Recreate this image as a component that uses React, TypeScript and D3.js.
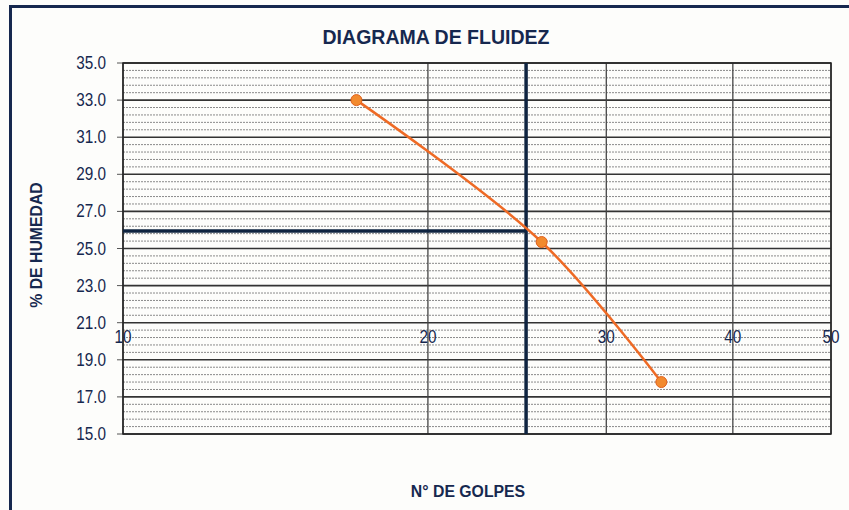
import React from 'react';
import * as d3 from 'd3';

// ensayo de limite liquido: golpes vs % humedad
const golpes = [17.0, 25.9, 34.0];
const humedad = [33.0, 25.35, 17.8];
const xTicks = [10, 20, 30, 40, 50];
const yTicks = [15, 17, 19, 21, 23, 25, 27, 29, 31, 33, 35];
const limiteGolpes = 25;
const limiteHumedad = 25.95;
const xAxisCross = 21;

const W = 849, H = 510;
const margin = { top: 63, right: 18, bottom: 76, left: 123 };
const navy = '#16284f';
const orange = '#ee6a25';
const font = '"Liberation Sans Narrow", "Liberation Sans", Arial, sans-serif';

const App = () => {
  const x = d3.scaleLog().domain([10, 50]).range([margin.left, W - margin.right]);
  const y = d3.scaleLinear().domain([15, 35]).range([H - margin.bottom, margin.top]);

  const minor = d3.range(15, 35.001, 0.4).filter((v) => !yTicks.some((t) => Math.abs(t - v) < 1e-6));
  const pts: [number, number][] = golpes.map((g, i) => [x(g), y(humedad[i])]);
  const line = d3.line().curve(d3.curveCatmullRom.alpha(0.5))(pts);

  const [x0, x1] = x.range();
  const [y0, y1] = y.range();

  return (
    <svg width={W} height={H} style={{ position: 'absolute', left: 0, top: 0, background: '#fdfdfb' }}>
      {/* marco */}
      <path d={`M10.5,${H} V6.5 H${W}`} fill="none" stroke={navy} strokeWidth={3} />

      <text transform="translate(436,44) scale(0.93,1)" textAnchor="middle" fontFamily={font} fontWeight="bold" fontSize={21} fill={navy}>
        DIAGRAMA DE FLUIDEZ
      </text>

      {/* lineas menores */}
      {minor.map((v) => (
        <line key={'m' + v} x1={x0} x2={x1} y1={y(v)} y2={y(v)} stroke="#8a8a8a" strokeWidth={1} strokeDasharray="2,1" />
      ))}
      {/* lineas mayores */}
      {yTicks.map((v) => (
        <g key={'y' + v}>
          <line x1={x0} x2={x1} y1={y(v)} y2={y(v)} stroke="#333" strokeWidth={1.6} />
          <line x1={x0 - 6} x2={x0} y1={y(v)} y2={y(v)} stroke="#555" strokeWidth={1} />
          <text transform={`translate(106,${y(v) + 6}) scale(0.85,1)`} textAnchor="end" fontFamily={font} fontSize={18} fill={navy}>
            {v.toFixed(1)}
          </text>
        </g>
      ))}
      {xTicks.map((v) => (
        <g key={'x' + v}>
          <line x1={x(v)} x2={x(v)} y1={y0} y2={y1} stroke="#444" strokeWidth={1.3} />
          <text transform={`translate(${x(v)},${y(xAxisCross) + 20}) scale(0.85,1)`} textAnchor="middle" fontFamily={font} fontSize={18} fill={navy}>
            {v}
          </text>
        </g>
      ))}
      <rect x={x0} y={y1} width={x1 - x0} height={y0 - y1} fill="none" stroke="#222" strokeWidth={1.5} />

      {/* limite liquido */}
      <line x1={x(limiteGolpes)} x2={x(limiteGolpes)} y1={y0} y2={y1} stroke="#0f2440" strokeWidth={3.5} />
      <line x1={x0} x2={x(limiteGolpes)} y1={y(limiteHumedad)} y2={y(limiteHumedad)} stroke="#0f2440" strokeWidth={3.5} />

      <path d={line ?? ''} fill="none" stroke={orange} strokeWidth={2.5} />
      {pts.map(([px, py], i) => (
        <circle key={i} cx={px} cy={py} r={5.5} fill="#f28a2e" stroke="#e0601c" strokeWidth={1} />
      ))}

      <text transform={`translate(42,${245}) rotate(-90) scale(0.93,1)`} textAnchor="middle" fontFamily={font} fontWeight="bold" fontSize={17} fill={navy}>
        % DE HUMEDAD
      </text>
      <text transform="translate(468,497) scale(0.93,1)" textAnchor="middle" fontFamily={font} fontWeight="bold" fontSize={17} fill={navy}>
        N° DE GOLPES
      </text>
    </svg>
  );
};

export default App;
